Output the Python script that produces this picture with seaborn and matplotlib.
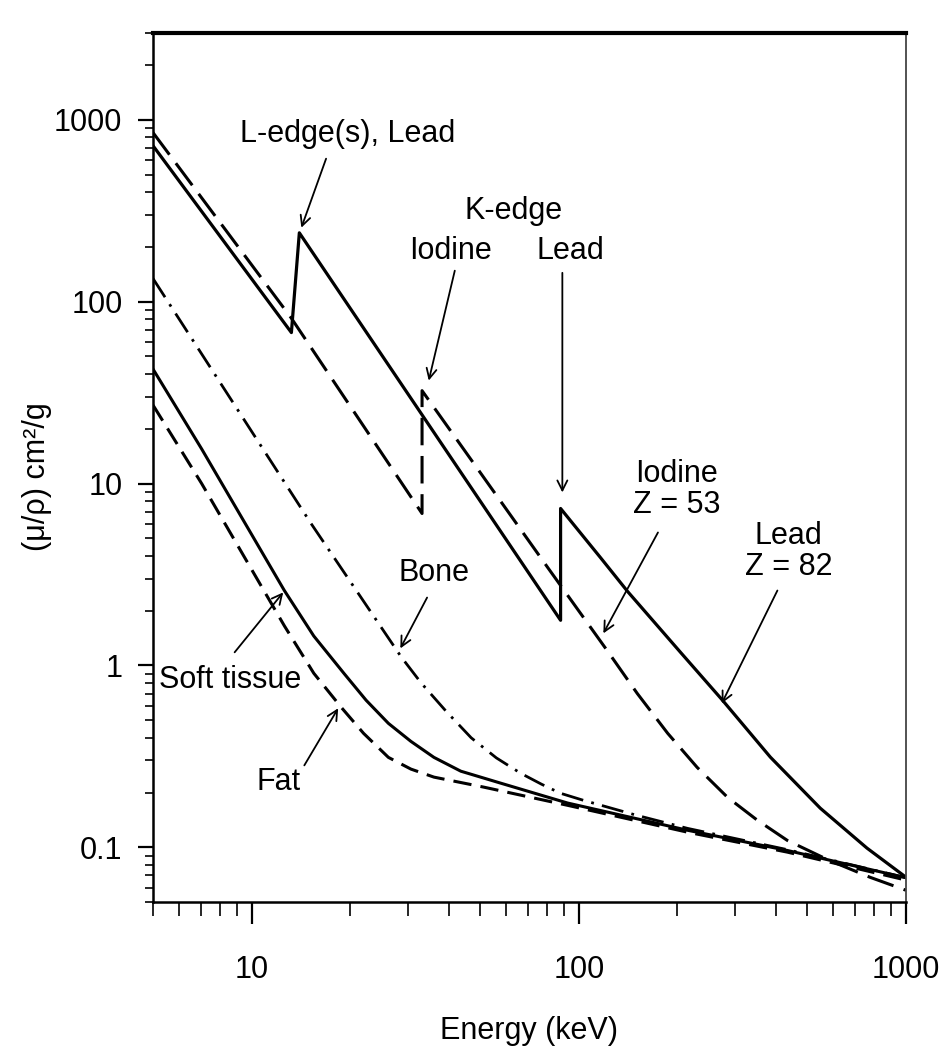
import numpy as np
import pandas as pd
import matplotlib
matplotlib.use("Agg")
import matplotlib.pyplot as plt
from matplotlib import font_manager
from matplotlib.ticker import LogLocator, FixedLocator, FixedFormatter, NullFormatter
import seaborn as sns

# ---------------- data ----------------
lead_E = [5, 13.24, 14.0, 88.0, 88.0, 116.7, 141, 204.6, 275, 385, 547, 760, 1000]
lead_mu = [720, 67.6, 239, 1.77, 7.29, 3.9, 2.55, 1.18, 0.643, 0.313, 0.164, 0.0989, 0.0684]

iodine_E = [5, 13.2, 33.2, 33.2, 80.4, 122, 151, 187, 230, 285, 351, 434, 580, 776, 1000]
iodine_mu = [850, 81.7, 6.84, 32.4, 3.45, 1.21, 0.70, 0.423, 0.275, 0.188, 0.141, 0.109,
             0.085, 0.0684, 0.058]

bone_E = [5, 15.2, 28.7, 33, 39.3, 46.9, 56, 66.5, 77, 88, 103.5, 150, 215, 434, 1000]
bone_mu = [134, 6.03, 1.11, 0.80, 0.56, 0.40, 0.31, 0.255, 0.222, 0.198, 0.181, 0.150,
           0.127, 0.097, 0.068]

tissue_E = [5, 7.04, 12.6, 15.5, 19.2, 22.4, 26.2, 30.7, 36.1, 43.6, 57.8, 92.5, 215, 434, 1000]
tissue_mu = [42.6, 15.5, 2.58, 1.45, 0.90, 0.643, 0.48, 0.382, 0.312, 0.262, 0.225, 0.175,
             0.124, 0.096, 0.068]

fat_E = [5, 7.04, 12.6, 15.5, 18.8, 22.0, 26.2, 30.7, 36.1, 51.3, 92.5, 215, 434, 1000]
fat_mu = [27, 10.0, 1.65, 0.905, 0.588, 0.423, 0.312, 0.269, 0.243, 0.214, 0.170, 0.121,
          0.094, 0.066]

y_ticks = [0.1, 1, 10, 100, 1000]
y_ticklabels = ["0.1", "1", "10", "100", "1000"]
x_ticks = [10, 100, 1000]
x_ticklabels = ["10", "100", "1000"]

# ---------------- style ----------------
sns.set_theme(style="ticks")
avail = {f.name for f in font_manager.fontManager.ttflist}
fam = "Liberation Sans Narrow" if "Liberation Sans Narrow" in avail else "Liberation Sans"
plt.rcParams["font.family"] = [fam, "DejaVu Sans"]

fig = plt.figure(figsize=(9.45, 10.61), dpi=100)
ax = fig.add_axes([153 / 945, 1 - 902 / 1061, (906 - 153) / 945, (902 - 33) / 1061])
ax.set_xscale("log")
ax.set_yscale("log")

series = [
    (lead_E, lead_mu, "-", 2.3),
    (iodine_E, iodine_mu, (0, (9, 3.5)), 2.2),
    (bone_E, bone_mu, (0, (8, 3, 1, 3)), 2.0),
    (tissue_E, tissue_mu, "-", 2.2),
    (fat_E, fat_mu, (0, (6, 3)), 2.2),
]
for E, mu, ls, lw in series:
    df = pd.DataFrame({"E": E, "mu": mu})
    sns.lineplot(data=df, x="E", y="mu", estimator=None, sort=False, ax=ax,
                 color="black", linewidth=lw, linestyle=ls)

ax.set_xlim(5, 1000)
ax.set_ylim(0.05, 3000)

# ticks
ax.yaxis.set_major_locator(FixedLocator(y_ticks))
ax.yaxis.set_major_formatter(FixedFormatter(y_ticklabels))
ax.yaxis.set_minor_locator(LogLocator(base=10, subs=np.arange(2, 10)))
ax.yaxis.set_minor_formatter(NullFormatter())
ax.xaxis.set_major_locator(FixedLocator(x_ticks))
ax.xaxis.set_major_formatter(FixedFormatter(x_ticklabels))
ax.xaxis.set_minor_locator(LogLocator(base=10, subs=np.arange(2, 10)))
ax.xaxis.set_minor_formatter(NullFormatter())

fs = 22
ax.tick_params(axis="y", which="major", direction="out", length=11, width=1.6,
               labelsize=fs, pad=11, colors="black", right=False)
ax.tick_params(axis="y", which="minor", direction="out", length=6, width=1.4, right=False)
ax.tick_params(axis="x", which="major", direction="out", length=16, width=1.6,
               labelsize=fs, pad=22, colors="black", top=False)
ax.tick_params(axis="x", which="minor", direction="out", length=10, width=1.4, top=False)

for side, lw, col in [("left", 1.8, "black"), ("bottom", 1.8, "black"),
                      ("top", 3.0, "black"), ("right", 1.3, "#444444")]:
    ax.spines[side].set_visible(True)
    ax.spines[side].set_linewidth(lw)
    ax.spines[side].set_color(col)

ax.set_xlabel("Energy (keV)", fontsize=fs, color="black")
ax.set_ylabel("(μ/ρ) cm²/g", fontsize=fs, color="black")
ax.xaxis.set_label_coords(0.5, -0.131)
ax.yaxis.label.set_va("center")
ax.yaxis.set_label_coords(-0.154, 0.49)
ax.grid(False)

# ---------------- annotations ----------------
txt = dict(fontsize=fs, ha="center", va="center", color="black", linespacing=1.05)
arrow = dict(arrowstyle="->", color="black", lw=1.3, mutation_scale=18, shrinkA=0, shrinkB=0)

ax.text(19.7, 838, "L-edge(s), Lead", **txt)
ax.annotate("", xy=(14.2, 255), xytext=(16.9, 611), arrowprops=arrow)

ax.text(63.2, 316, "K-edge", **txt)
ax.text(40.6, 190, "Iodine", **txt)
ax.text(94.2, 190, "Lead", **txt)
ax.annotate("", xy=(34.8, 36.8), xytext=(41.8, 148), arrowprops=arrow)
ax.annotate("", xy=(89.1, 8.93), xytext=(89.1, 144), arrowprops=arrow)

ax.text(199.5, 9.27, "Iodine\nZ = 53", **txt)
ax.annotate("", xy=(118.9, 1.50), xytext=(174.6, 5.38), arrowprops=arrow)

ax.text(437.5, 4.23, "Lead\nZ = 82", **txt)
ax.annotate("", xy=(273.5, 0.618), xytext=(404.6, 2.58), arrowprops=arrow)

ax.text(36.1, 3.24, "Bone", **txt)
ax.annotate("", xy=(28.5, 1.24), xytext=(34.4, 2.36), arrowprops=arrow)

ax.text(8.6, 0.827, "Soft tissue", **txt)
ax.annotate("", xy=(12.5, 2.52), xytext=(8.88, 1.18), arrowprops=arrow)

ax.text(12.1, 0.228, "Fat", **txt)
ax.annotate("", xy=(18.4, 0.581), xytext=(14.5, 0.282), arrowprops=arrow)

fig.savefig("out.png", dpi=100, facecolor="white")
